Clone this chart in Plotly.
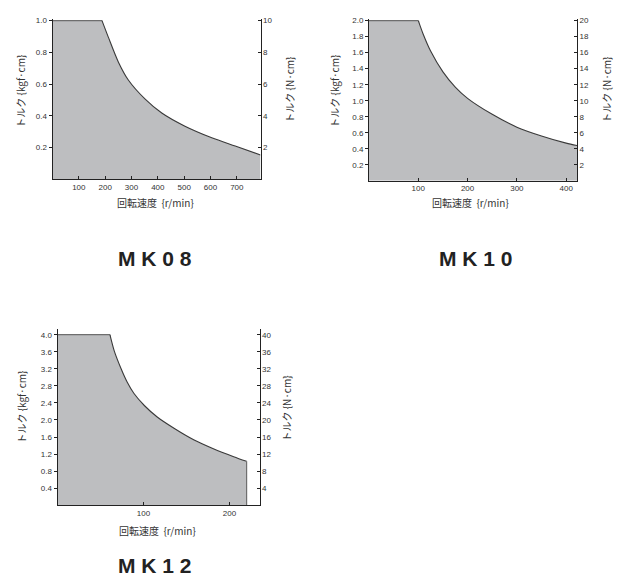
import plotly.graph_objects as go

# ---------------- data ----------------
# MK08
mk08_speed = [0, 188, 212, 250, 288, 351, 415, 503, 605, 694, 790]
mk08_torque = [1.0, 1.0, 0.896, 0.74, 0.626, 0.507, 0.418, 0.335, 0.262, 0.21, 0.154]
# MK10
mk10_speed = [0, 100, 110, 125, 150, 175, 200, 250, 300, 350, 400, 422]
mk10_torque = [2.0, 2.0, 1.83, 1.62, 1.36, 1.17, 1.03, 0.83, 0.67, 0.56, 0.47, 0.44]
# MK12
mk12_speed = [0, 61, 66, 74, 81, 89, 101, 116, 136, 159, 182, 205, 220]
mk12_torque = [4.0, 4.0, 3.62, 3.20, 2.89, 2.62, 2.34, 2.07, 1.80, 1.53, 1.32, 1.14, 1.03]

mk08_xticks = [100, 200, 300, 400, 500, 600, 700]
mk08_yticks = [0.2, 0.4, 0.6, 0.8, 1.0]
mk08_y2ticks = [2, 4, 6, 8, 10]
mk10_xticks = [100, 200, 300, 400]
mk10_yticks = [0.2, 0.4, 0.6, 0.8, 1.0, 1.2, 1.4, 1.6, 1.8, 2.0]
mk10_y2ticks = [2, 4, 6, 8, 10, 12, 14, 16, 18, 20]
mk12_xticks = [100, 200]
mk12_yticks = [0.4, 0.8, 1.2, 1.6, 2.0, 2.4, 2.8, 3.2, 3.6, 4.0]
mk12_y2ticks = [4, 8, 12, 16, 20, 24, 28, 32, 36, 40]

titles = ["MK08", "MK10", "MK12"]
xlabel = "回転速度  {r/min}"
ylabel_left = "トルク {kgf·cm}"
ylabel_right = "トルク {N·cm}"

W, H = 619, 581
FILL = "#bdbec0"
CURVE = "#3a3a3a"
FLAT = "#6e6e6e"
TICKFONT = dict(family="Liberation Sans, Arial", size=8, color="#333333")
JPFONT = dict(family="Noto Sans CJK JP", size=10, color="#333333")

def px_x(p):
    return p / W

def px_y(p):
    return 1 - p / H

fig = go.Figure()

charts = [
    dict(s=mk08_speed, t=mk08_torque, xt=mk08_xticks, yt=mk08_yticks, y2t=mk08_y2ticks,
         xd=(52.5, 260.5), yd=(16.7, 178.0), xr=[0, 790], yr=[0, 1.0125], knee=1, close=False),
    dict(s=mk10_speed, t=mk10_torque, xt=mk10_xticks, yt=mk10_yticks, y2t=mk10_y2ticks,
         xd=(369.0, 577.0), yd=(16.7, 179.4), xr=[0, 422], yr=[0, 2.025], knee=1, close=False),
    dict(s=mk12_speed, t=mk12_torque, xt=mk12_xticks, yt=mk12_yticks, y2t=mk12_y2ticks,
         xd=(57.5, 259.5), yd=(328.3, 505.0), xr=[0, 235], yr=[0, 4.13], knee=1, close=True),
]

layout = {}
for i, c in enumerate(charts):
    xa = "x" if i == 0 else f"x{i+1}"
    ya = "y" if i == 0 else f"y{2*i+1}"
    ya2 = f"y{2*i+2}"
    xkey = "xaxis" if i == 0 else f"xaxis{i+1}"
    ykey = "yaxis" if i == 0 else f"yaxis{2*i+1}"
    y2key = f"yaxis{2*i+2}"
    k = c["knee"]
    common = dict(xaxis=xa, yaxis=ya, hoverinfo="skip", showlegend=False)

    # fills (constant-torque part and falling part)
    fig.add_trace(go.Scatter(x=c["s"][:k + 1], y=c["t"][:k + 1], mode="lines",
                             fill="tozeroy", fillcolor=FILL, line=dict(width=0), **common))
    fig.add_trace(go.Scatter(x=c["s"][k:], y=c["t"][k:], mode="lines",
                             fill="tozeroy", fillcolor=FILL,
                             line=dict(width=0, shape="spline", smoothing=0.8), **common))
    # cover the seam between the two fills
    fig.add_trace(go.Scatter(x=[c["s"][k], c["s"][k]], y=[0, c["t"][k]], mode="lines",
                             line=dict(color=FILL, width=2), **common))
    # outlines
    fig.add_trace(go.Scatter(x=c["s"][:k + 1], y=c["t"][:k + 1], mode="lines",
                             line=dict(color=FLAT, width=1.2), **common))
    fig.add_trace(go.Scatter(x=c["s"][k:], y=c["t"][k:], mode="lines",
                             line=dict(color=CURVE, width=1.1, shape="spline", smoothing=0.8),
                             **common))
    if c["close"]:
        fig.add_trace(go.Scatter(x=[c["s"][-1], c["s"][-1]], y=[c["t"][-1], 0], mode="lines",
                                 line=dict(color=FLAT, width=1.2), **common))
    fig.add_trace(go.Scatter(x=c["s"], y=[v * 10 for v in c["t"]], xaxis=xa, yaxis=ya2,
                             mode="none", hoverinfo="skip", showlegend=False))

    layout[xkey] = dict(domain=[px_x(c["xd"][0]), px_x(c["xd"][1])], range=c["xr"],
                        anchor=ya, tickvals=c["xt"], ticks="inside", ticklen=3,
                        tickcolor="#222", showline=True, linecolor="#222", linewidth=1,
                        showgrid=False, zeroline=False, tickfont=TICKFONT)
    layout[ykey] = dict(domain=[px_y(c["yd"][1]), px_y(c["yd"][0])], range=c["yr"],
                        anchor=xa, tickvals=c["yt"], tickformat=".1f", ticks="outside",
                        ticklen=3, tickcolor="#222", showline=True, linecolor="#222",
                        linewidth=1, showgrid=False, zeroline=False, tickfont=TICKFONT)
    layout[y2key] = dict(overlaying=ya, side="right", anchor=xa,
                         range=[v * 10 for v in c["yr"]], tickvals=c["y2t"], ticks="inside",
                         ticklen=3, tickcolor="#222", showline=True, linecolor="#222",
                         linewidth=1, showgrid=False, zeroline=False, tickfont=TICKFONT)

annotations = []
def ann(text, x, y, font, angle=0):
    annotations.append(dict(text=text, x=px_x(x), y=px_y(y), xref="paper", yref="paper",
                            showarrow=False, xanchor="center", yanchor="middle",
                            textangle=angle, font=font))

ann(xlabel, 155, 201, JPFONT)
ann(xlabel, 470, 201, JPFONT)
ann(xlabel, 157, 530, JPFONT)
ann(ylabel_left, 21, 90, JPFONT, -90)
ann(ylabel_right, 290, 88, JPFONT, -90)
ann(ylabel_left, 335, 90, JPFONT, -90)
ann(ylabel_right, 607, 88, JPFONT, -90)
ann(ylabel_left, 22, 407, JPFONT, -90)
ann(ylabel_right, 287, 408, JPFONT, -90)

TITLEFONT = dict(family="Liberation Sans, Arial", size=21, color="#222222")
ann("<b>" + " ".join(titles[0]) + "</b>", 155, 257, TITLEFONT)
ann("<b>" + " ".join(titles[1]) + "</b>", 476, 257, TITLEFONT)
ann("<b>" + " ".join(titles[2]) + "</b>", 155, 565, TITLEFONT)

fig.update_layout(width=W, height=H, margin=dict(l=0, r=0, t=0, b=0),
                  paper_bgcolor="white", plot_bgcolor="white",
                  showlegend=False, annotations=annotations, **layout)

fig.write_html("out.html", config={"displayModeBar": False},
               post_script="document.body.style.margin='0';document.body.style.overflow='hidden';")
